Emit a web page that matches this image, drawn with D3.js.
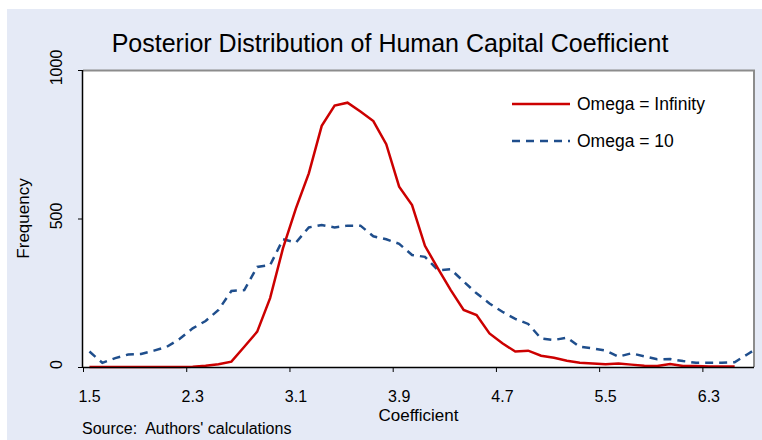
<!DOCTYPE html>
<html>
<head>
<meta charset="utf-8">
<script src="https://cdn.jsdelivr.net/npm/d3@7"></script>
<style>
  body { margin: 0; background: #fff; }
  text { font-family: "Liberation Sans", Arial, sans-serif; fill: #000; }
</style>
</head>
<body>
<svg width="762" height="440"></svg>
<script>
// bin centres and counts
const redCoef = [1.55, 1.65, 1.75, 1.85, 1.95, 2.05, 2.15, 2.25, 2.35, 2.45,
  2.55, 2.65, 2.75, 2.85, 2.95, 3.05, 3.15, 3.25, 3.35, 3.45,
  3.55, 3.65, 3.75, 3.85, 3.95, 4.05, 4.15, 4.25, 4.35, 4.45,
  4.55, 4.65, 4.75, 4.85, 4.95, 5.05, 5.15, 5.25, 5.35, 5.45,
  5.55, 5.65, 5.75, 5.85, 5.95, 6.05, 6.15, 6.25, 6.35, 6.45, 6.55];
const redFreq = [0, 0, 0, 0, 0, 0, 0, 0, 1, 4,
  9, 18, 68, 119, 232, 400, 534, 652, 812, 880,
  890, 860, 828, 750, 607, 545, 408, 332, 259, 192,
  175, 113, 80, 52, 55, 38, 31, 21, 14, 12,
  9, 12, 8, 4, 3, 10, 3, 3, 2, 2, 2];

const blueCoef = [1.55, 1.65, 1.75, 1.85, 1.95, 2.05, 2.15, 2.25, 2.35, 2.45,
  2.55, 2.65, 2.75, 2.85, 2.95, 3.05, 3.15, 3.25, 3.35, 3.45,
  3.55, 3.65, 3.75, 3.85, 3.95, 4.05, 4.15, 4.25, 4.35, 4.45,
  4.55, 4.65, 4.75, 4.85, 4.95, 5.05, 5.15, 5.25, 5.35, 5.45,
  5.55, 5.65, 5.75, 5.85, 5.95, 6.05, 6.15, 6.25, 6.35, 6.45,
  6.55, 6.65, 6.75];
const blueFreq = [52, 14, 30, 42, 44, 55, 68, 95, 130, 155,
  192, 256, 259, 337, 343, 430, 419, 470, 478, 470,
  476, 476, 440, 430, 415, 377, 371, 326, 329, 288,
  248, 214, 186, 162, 145, 96, 91, 99, 68, 63,
  55, 35, 46, 36, 26, 27, 20, 14, 14, 14,
  16, 43, 70];

const xTicks = [1.5, 2.3, 3.1, 3.9, 4.7, 5.5, 6.3];
const yTicks = [0, 500, 1000];
const seriesNames = ["Omega = Infinity", "Omega = 10"];

const svg = d3.select("svg");
const pLeft = 83, pRight = 754, pTop = 70, pBottom = 367;

// page background
svg.append("rect")
  .attr("x", 7).attr("y", 9)
  .attr("width", 755).attr("height", 431)
  .attr("fill", "#e5eaf6");

svg.append("rect")
  .attr("x", pLeft).attr("y", pTop)
  .attr("width", pRight - pLeft).attr("height", pBottom - pTop)
  .attr("fill", "#fff");

const x = d3.scaleLinear().domain([1.5, 6.7]).range([pLeft, pRight]);
const y = d3.scaleLinear().domain([0, 1000]).range([pBottom, pTop]);

svg.append("clipPath").attr("id", "plot")
  .append("rect")
  .attr("x", pLeft).attr("y", pTop - 5)
  .attr("width", pRight - pLeft).attr("height", pBottom - pTop + 10);

// top and right frame
svg.append("path")
  .attr("d", `M${pLeft},${pTop + 0.5}H${pRight}V${pBottom}`)
  .attr("fill", "none")
  .attr("stroke", "#8c8c8c")
  .attr("stroke-width", 2);

const line = d3.line().x(d => x(d[0])).y(d => y(d[1]));

const g = svg.append("g").attr("clip-path", "url(#plot)");

g.append("path")
  .datum(blueCoef.map((c, i) => [c, blueFreq[i]]))
  .attr("d", line)
  .attr("fill", "none")
  .attr("stroke", "#1f4e8c")
  .attr("stroke-width", 2.5)
  .attr("stroke-dasharray", "8,6");

g.append("path")
  .datum(redCoef.map((c, i) => [c, redFreq[i]]))
  .attr("d", line)
  .attr("fill", "none")
  .attr("stroke", "#cc0000")
  .attr("stroke-width", 2.5);

// axes
const xAxis = svg.append("g")
  .attr("transform", `translate(0,${pBottom})`)
  .call(d3.axisBottom(x).tickValues(xTicks).tickSize(5).tickSizeOuter(0).tickFormat(d3.format(".1f")));
xAxis.select(".domain").attr("d", `M${pLeft},0.5H${pRight}`).attr("stroke", "#000").attr("stroke-width", 1.5);
xAxis.selectAll(".tick line").attr("stroke", "#000");
xAxis.selectAll(".tick text")
  .attr("y", 35).attr("dy", 0).attr("dx", 6)
  .style("font-size", "16px");
xAxis.attr("font-family", null).attr("font-size", null);

const yAxis = svg.append("g")
  .attr("transform", `translate(${pLeft},0)`)
  .call(d3.axisLeft(y).tickValues(yTicks).tickSize(5).tickSizeOuter(0));
yAxis.attr("font-family", null).attr("font-size", null);
yAxis.select(".domain").attr("d", `M-0.5,${pTop}V${pBottom + 1}`).attr("stroke", "#000").attr("stroke-width", 1.5);
yAxis.selectAll(".tick line").attr("stroke", "#000");
yAxis.selectAll(".tick text").remove();
yAxis.selectAll(".tick")
  .append("text")
  .attr("transform", "translate(-27,-3) rotate(-90)")
  .attr("text-anchor", "middle")
  .attr("dy", "0.35em")
  .style("font-size", "16px")
  .text(d => d);

// titles
svg.append("text")
  .attr("x", 390).attr("y", 52)
  .attr("text-anchor", "middle")
  .style("font-size", "25px")
  .text("Posterior Distribution of Human Capital Coefficient");

svg.append("text")
  .attr("transform", `translate(23,${(pTop + pBottom) / 2}) rotate(-90)`)
  .attr("text-anchor", "middle")
  .attr("dy", "0.35em")
  .style("font-size", "17px")
  .text("Frequency");

svg.append("text")
  .attr("x", (pLeft + pRight) / 2).attr("y", 421)
  .attr("text-anchor", "middle")
  .style("font-size", "17px")
  .text("Coefficient");

svg.append("text")
  .attr("x", 82).attr("y", 434)
  .attr("xml:space", "preserve")
  .style("white-space", "pre")
  .style("font-size", "16px")
  .text("Source:  Authors' calculations");

// legend
const legend = svg.append("g").attr("transform", "translate(512,104)");
legend.append("line")
  .attr("x1", 0).attr("x2", 58).attr("y1", 0).attr("y2", 0)
  .attr("stroke", "#cc0000").attr("stroke-width", 2.5);
legend.append("line")
  .attr("x1", 0).attr("x2", 58).attr("y1", 37).attr("y2", 37)
  .attr("stroke", "#1f4e8c").attr("stroke-width", 2.5)
  .attr("stroke-dasharray", "8,6");
legend.selectAll("text.lg")
  .data(seriesNames)
  .enter().append("text")
  .attr("class", "lg")
  .attr("x", 65)
  .attr("y", (d, i) => i * 37)
  .attr("dy", "0.35em")
  .style("font-size", "17.5px")
  .text(d => d);
</script>
</body>
</html>
